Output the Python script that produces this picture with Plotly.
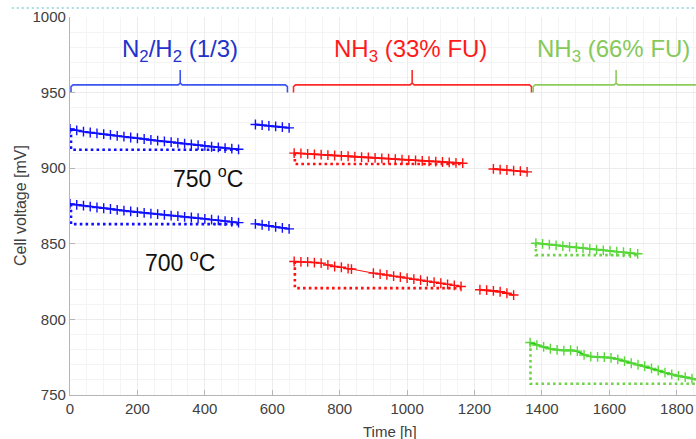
import plotly.graph_objects as go

# ---------------- data ----------------
# N2/H2 (1/3), 750 C
b750_t = [0, 20, 40, 60, 80, 100, 120, 140, 160, 180, 200, 220, 240, 260, 280, 300,
          320, 340, 360, 380, 400, 420, 440, 460, 480, 500]
b750_v = [926.0, 925.0, 924.2, 923.6, 923.0, 922.5, 922.0, 921.4, 920.9, 920.3, 919.8,
          919.3, 918.7, 918.2, 917.7, 917.2, 916.7, 916.2, 915.7, 915.2, 914.7, 914.2,
          913.8, 913.3, 912.9, 912.5]
b750b_t = [550, 570, 590, 610, 630, 650]
b750b_v = [928.9, 928.5, 928.0, 927.6, 927.1, 926.7]
# N2/H2 (1/3), 700 C
b700_t = b750_t
b700_v = [876.4, 875.8, 875.2, 874.6, 874.0, 873.5, 873.0, 872.4, 871.9, 871.4, 870.9,
          870.5, 870.0, 869.6, 869.1, 868.7, 868.3, 867.8, 867.4, 866.9, 866.5, 866.0,
          865.5, 865.0, 864.5, 864.0]
b700b_t = [550, 570, 590, 610, 630, 650]
b700b_v = [863.2, 862.6, 861.9, 861.2, 860.5, 859.9]

# NH3 (33% FU), 750 C
r750_t = [665, 685, 705, 725, 745, 765, 785, 805, 825, 845, 865, 885, 905, 925, 945,
          965, 985, 1005, 1025, 1045, 1065, 1085, 1105, 1125, 1145, 1165]
r750_v = [910.0, 909.8, 909.5, 909.2, 909.0, 908.7, 908.4, 908.2, 907.9, 907.6, 907.3,
          907.1, 906.8, 906.5, 906.3, 906.0, 905.7, 905.4, 905.2, 904.9, 904.6, 904.4,
          904.1, 903.8, 903.5, 903.3]
r750b_t = [1256, 1276, 1296, 1316, 1336, 1356]
r750b_v = [899.5, 899.1, 898.8, 898.4, 898.0, 897.6]
# NH3 (33% FU), 700 C
r700_t = [665, 685, 705, 725, 745, 765, 785, 805, 825, 835,
          900, 920, 940, 960, 980, 1000, 1020, 1040, 1060, 1080, 1100, 1120, 1140, 1160]
r700_v = [838.3, 838.0, 838.0, 837.6, 837.2, 836.0, 835.0, 834.5, 833.6, 833.3,
          830.6, 830.0, 829.4, 828.6, 828.0, 827.3, 826.6, 826.0, 825.2, 824.6, 823.9,
          823.2, 822.5, 821.8]
r700b_t = [1216, 1236, 1256, 1276, 1296, 1316]
r700b_v = [819.6, 819.3, 818.9, 818.3, 817.3, 816.1]

# NH3 (66% FU), 750 C
g750_t = [1382, 1402, 1422, 1442, 1462, 1482, 1502, 1522, 1542, 1562, 1582, 1602,
          1622, 1642, 1662, 1684]
g750_v = [850.4, 850.0, 849.5, 849.0, 848.5, 848.0, 847.6, 847.1, 846.7, 846.2, 845.7,
          845.3, 844.8, 844.4, 843.9, 843.4]
# NH3 (66% FU), 700 C
g700_t = [1365, 1385, 1405, 1425, 1445, 1465, 1485, 1505, 1525, 1545, 1565, 1585, 1605,
          1625, 1645, 1665, 1685, 1705, 1725, 1745, 1765, 1785, 1805, 1825, 1845, 1865]
g700_v = [784.7, 783.0, 781.8, 780.6, 779.8, 779.4, 779.6, 779.0, 776.5, 775.4, 775.2,
          775.0, 774.6, 773.6, 772.4, 771.0, 770.0, 769.0, 767.6, 766.2, 764.8, 763.6,
          762.6, 761.8, 760.8, 760.0]

# dotted reference outlines: start time, end time, start voltage, final voltage
ref_blue750 = ([3, 3, 500], [926.0, 912.2, 912.2])
ref_blue700 = ([3, 3, 500], [876.4, 863.0, 863.0])
ref_red750 = ([667, 667, 1164], [910.0, 902.8, 902.8])
ref_red700 = ([667, 667, 1160], [838.3, 820.7, 820.7])
ref_grn750 = ([1382, 1382, 1684], [850.4, 842.5, 842.5])
ref_grn700 = ([1366, 1366, 1870], [784.7, 757.4, 757.4])

# brackets: (start, middle, end) in hours
br_blue = (3, 327, 645)
br_red = (663, 1015, 1369)
br_green = (1374, 1620, 1990)
br_base, br_line, br_tip = 950.0, 955.1, 965.0

group_labels = ["N<sub>2</sub>/H<sub>2</sub> (1/3)", "NH<sub>3</sub> (33% FU)",
                "NH<sub>3</sub> (66% FU)"]
temp_labels = ["750 <sup>o</sup>C", "700 <sup>o</sup>C"]

x_ticks = [0, 200, 400, 600, 800, 1000, 1200, 1400, 1600, 1800]
y_ticks = [750, 800, 850, 900, 950, 1000]

BLUE, RED, GREEN = "#1010ff", "#ff1010", "#19c80a"
BLUE_T, RED_T, GREEN_T = "#2233cc", "#ff1a1a", "#86c95a"
BLUE_B, RED_B, GREEN_B = "#3a55f0", "#ff2a2a", "#8ccc5c"

fig = go.Figure()


def data_trace(t, v, color, mcolor=None, lw=1.8):
    fig.add_trace(go.Scatter(
        x=t, y=v, mode="lines+markers",
        line=dict(color=color, width=lw),
        marker=dict(symbol="cross-thin", size=7,
                    line=dict(color=mcolor or color, width=1.4)),
        showlegend=False, hoverinfo="skip"))


def ref_trace(ref, color):
    fig.add_trace(go.Scatter(
        x=ref[0], y=ref[1], mode="lines",
        line=dict(color=color, width=2.6, dash="2.6px,3.2px"),
        showlegend=False, hoverinfo="skip"))


def bracket(br, color):
    a, m, b = br
    d = 6
    xs = [a, a, a + d, m - d, m, m, m, m + d, b - d, b, b]
    ys = [br_base, br_line - 1.2, br_line, br_line, br_line + 1.2, br_tip,
          br_line + 1.2, br_line, br_line, br_line - 1.2, br_base]
    fig.add_trace(go.Scatter(x=xs, y=ys, mode="lines",
                             line=dict(color=color, width=1.6),
                             showlegend=False, hoverinfo="skip", cliponaxis=False))


ref_trace(ref_blue750, BLUE)
ref_trace(ref_blue700, BLUE)
ref_trace(ref_red750, RED)
ref_trace(ref_red700, RED)
ref_trace(ref_grn750, "#6fd34a")
ref_trace(ref_grn700, "#6fd34a")

data_trace(b750_t, b750_v, BLUE)
data_trace(b750b_t, b750b_v, BLUE)
data_trace(b700_t, b700_v, BLUE)
data_trace(b700b_t, b700b_v, BLUE)
data_trace(r750_t, r750_v, RED)
data_trace(r750b_t, r750b_v, RED)
data_trace(r700_t, r700_v, RED, lw=1.0)
data_trace(r700b_t, r700b_v, RED)
data_trace(g750_t, g750_v, GREEN, mcolor="#5ad83a")
data_trace(g700_t, g700_v, GREEN, mcolor="#5ad83a", lw=2.0)

bracket(br_blue, BLUE_B)
bracket(br_red, RED_B)
bracket(br_green, GREEN_B)

FONT = "Liberation Sans, Arial, Helvetica, sans-serif"
for lab, mid, col in zip(group_labels, [327, 1011, 1611], [BLUE_T, RED_T, GREEN_T]):
    fig.add_annotation(x=mid, y=978, text=lab, showarrow=False,
                       font=dict(family=FONT, size=24, color=col),
                       xanchor="center", yanchor="middle")
fig.add_annotation(x=410, y=894.5, text=temp_labels[0], showarrow=False,
                   font=dict(family=FONT, size=23, color="#111111"),
                   xanchor="center", yanchor="middle")
fig.add_annotation(x=327, y=838.5, text=temp_labels[1], showarrow=False,
                   font=dict(family=FONT, size=23, color="#111111"),
                   xanchor="center", yanchor="middle")

# axis titles placed as paper annotations
fig.add_annotation(xref="paper", yref="paper", x=(390 - 70) / 626, y=-(431 - 395) / 378,
                   text="Time [h]", showarrow=False, xanchor="center", yanchor="middle",
                   font=dict(family=FONT, size=15, color="#404040"))
fig.add_annotation(xref="paper", yref="paper", x=-(70 - 20) / 626, y=0.5,
                   text="Cell voltage [mV]", showarrow=False, textangle=-90,
                   xanchor="center", yanchor="middle",
                   font=dict(family=FONT, size=16, color="#404040"))

# faint cyan dotted frame edge above the plot
fig.add_shape(type="line", xref="paper", yref="paper", x0=-0.093, x1=1.0,
              y0=1.0238, y1=1.0238,
              line=dict(color="#8fcfdc", width=1.5, dash="2px,3px"))

axis_common = dict(
    showline=True, linecolor="#b5b5b5", linewidth=1.2,
    ticks="inside", ticklen=5, tickcolor="#b5b5b5", tickwidth=1,
    tickfont=dict(family=FONT, size=15, color="#404040"),
    showgrid=True, gridcolor="#ececec", gridwidth=1,
    zeroline=False, automargin=False,
)

fig.update_layout(
    width=696, height=439,
    margin=dict(l=70, r=0, t=17, b=44),
    paper_bgcolor="white", plot_bgcolor="white",
    font=dict(family=FONT),
    xaxis=dict(range=[0, 1857], tickvals=x_ticks,
               minor=dict(dtick=50, showgrid=True, gridcolor="#f4f4f4", ticks=""),
               **axis_common),
    yaxis=dict(range=[750, 1000], tickvals=y_ticks,
               minor=dict(dtick=10, showgrid=True, gridcolor="#f4f4f4", ticks=""),
               **axis_common),
)

fig.write_html("out.html", config={"displayModeBar": False},
               post_script="document.body.style.margin='0';")
